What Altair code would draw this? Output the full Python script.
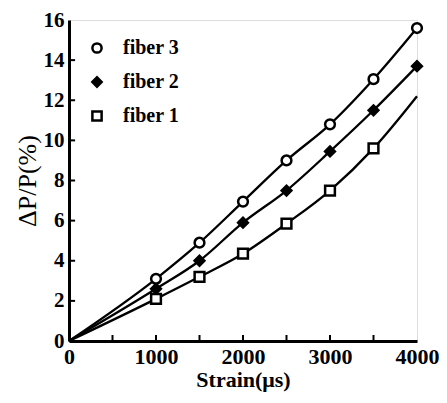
import altair as alt
import pandas as pd

strain = [0, 1000, 1500, 2000, 2500, 3000, 3500, 4000]
fiber3 = [0, 3.1, 4.9, 6.95, 9.0, 10.8, 13.05, 15.6]
fiber2 = [0, 2.6, 4.0, 5.9, 7.5, 9.45, 11.5, 13.7]
fiber1 = [0, 2.1, 3.2, 4.35, 5.85, 7.5, 9.6, 12.2]
series = ["fiber 3", "fiber 2", "fiber 1"]
marker_x = {"fiber 3": [1000, 1500, 2000, 2500, 3000, 3500, 4000],
            "fiber 2": [1000, 1500, 2000, 2500, 3000, 3500, 4000],
            "fiber 1": [1000, 1500, 2000, 2500, 3000, 3500]}
x_ticks = [500, 1000, 1500, 2000, 2500, 3000, 3500]
y_ticks = [2, 4, 6, 8, 10, 12, 14]

rows = []
for name, vals in zip(series, [fiber3, fiber2, fiber1]):
    for s, v in zip(strain, vals):
        rows.append({"strain": s, "val": v, "fiber": name,
                     "marker": s in marker_x[name]})
df = pd.DataFrame(rows)

FONT = "Liberation Serif"
xs = alt.Scale(domain=[0, 4000], nice=False)
ys = alt.Scale(domain=[0, 16], nice=False)

lines = alt.Chart(df).mark_line(interpolate="monotone", color="black", strokeWidth=2.3).encode(
    x=alt.X("strain:Q", scale=xs, title="Strain(μs)",
            axis=alt.Axis(values=[0, 1000, 2000, 3000, 4000], format="d", ticks=False, grid=False,
                          labelFlush=False, labelOverlap=False,
                          labelFont=FONT, labelFontSize=22, labelFontWeight="bold",
                          labelColor="black", domainColor="black", domainWidth=3,
                          labelPadding=5, titleFont=FONT, titleFontSize=22,
                          titleFontWeight="bold", titleColor="black", titlePadding=2)),
    y=alt.Y("val:Q", scale=ys, title="ΔP/P(%)",
            axis=alt.Axis(values=[0, 2, 4, 6, 8, 10, 12, 14, 16], ticks=False, grid=False,
                          labelFlush=False, labelOverlap=False,
                          labelFont=FONT, labelFontSize=21, labelFontWeight="bold",
                          labelColor="black", domainColor="black", domainWidth=3,
                          labelPadding=5, titleFont=FONT, titleFontSize=26,
                          titleFontWeight="normal", titleColor="black", titlePadding=3)),
    detail="fiber:N",
)

points = alt.Chart(df).transform_filter("datum.marker").mark_point(
    strokeWidth=2.5, opacity=1, color="black", size=95
).encode(
    x=alt.X("strain:Q", scale=xs),
    y=alt.Y("val:Q", scale=ys),
    shape=alt.Shape("fiber:N", scale=alt.Scale(domain=series, range=["circle", "diamond", "square"]),
                    legend=alt.Legend(orient="top-left", title=None, offset=18, padding=0,
                                      labelFont=FONT, labelFontSize=20, labelFontWeight="bold",
                                      labelColor="black", symbolStrokeColor="black",
                                      symbolFillColor="white", symbolOpacity=1,
                                      symbolStrokeWidth=2.5, symbolSize=85, rowPadding=14,
                                      labelOffset=16)),
    fill=alt.Fill("fiber:N", scale=alt.Scale(domain=series, range=["white", "black", "white"]),
                  legend=None),
)

xt = pd.DataFrame({"t": x_ticks})
yt = pd.DataFrame({"t": y_ticks})
xtick = alt.Chart(xt).mark_rule(color="black", strokeWidth=2).encode(
    x=alt.X("t:Q", scale=xs), y=alt.datum(0), y2=alt.datum(0.3))
ytick = alt.Chart(yt).mark_rule(color="black", strokeWidth=2).encode(
    y=alt.Y("t:Q", scale=ys), x=alt.datum(0), x2=alt.datum(70))

chart = alt.layer(lines, xtick, ytick, points).properties(
    width=348, height=321,
    autosize=alt.AutoSizeParams(type="none"),
    padding={"left": 61, "top": 12, "right": 22, "bottom": 54},
).configure_view(stroke="black", strokeWidth=3).configure(background="white")

chart.save("out.html", embed_options={"renderer": "svg", "actions": False})
